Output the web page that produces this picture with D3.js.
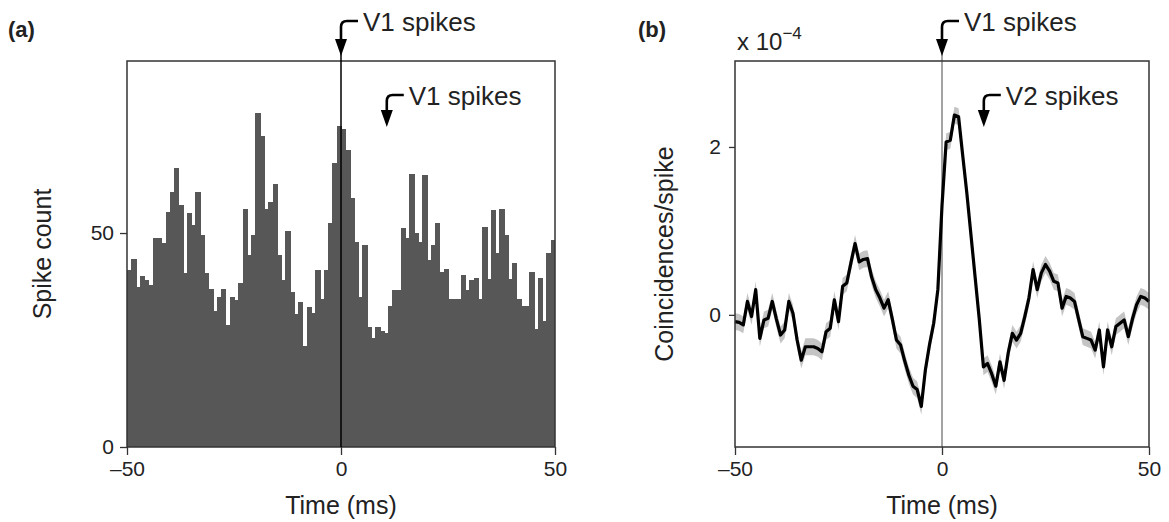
<!DOCTYPE html>
<html>
<head>
<meta charset="utf-8">
<script src="https://cdn.jsdelivr.net/npm/d3@7"></script>
<style>
  body { margin: 0; background: #fff; }
  svg text { font-family: "Liberation Sans", Arial, sans-serif; fill: #222; }
</style>
</head>
<body>
<div id="container"></div>
<script>
// histogram bins (ms) and counts, panel (a)
const binStarts = d3.range(-50, 50);
const spikeCounts = [
  41.4, 43.9, 37.5, 40, 39, 37.8, 48.8, 48.8, 47.6, 55,
  59.7, 65.3, 56.5, 40.6, 54.6, 51.9, 59.7, 49.5, 40.6, 36.9,
  31.8, 35.1, 36.9, 28.5, 35.1, 34.3, 38.4, 55.6, 44.9, 49.5,
  78.1, 72.7, 55.5, 57.3, 61.4, 44.9, 39, 50.5, 36.3, 31.1,
  33.8, 23.6, 32.6, 31.4, 41.4, 34.5, 41.4, 52.4, 66.3, 75,
  74.2, 69.4, 58.3, 48, 35.1, 47.2, 28.1, 25.4, 28, 27.2,
  26.6, 33, 36.7, 36.7, 51.1, 48.8, 63.8, 49.9, 48, 63.6,
  43.7, 47.2, 52.3, 41, 41.5, 34.6, 34.6, 34.6, 40.3, 36.8,
  39, 39.4, 34.5, 51.5, 39.2, 55.4, 45.3, 55.5, 49.5, 39.2,
  42.9, 34.6, 32.9, 32.9, 41, 27.6, 39.4, 29.4, 45.3, 48.4
];

// cross-correlation, panel (b), x 10^-4, one value per ms
const lagTimes = d3.range(-50, 51);
const coincidences = [
  -0.08, -0.09, -0.12, 0.16, -0.02, 0.30, -0.28, -0.06, -0.04, 0.16,
  -0.05, -0.24, -0.18, 0.16, 0.02, -0.30, -0.54, -0.38, -0.38, -0.38,
  -0.40, -0.44, -0.20, -0.16, 0.18, -0.08, 0.34, 0.38, 0.62, 0.85,
  0.63, 0.66, 0.67, 0.45, 0.30, 0.20, 0.08, 0.18, -0.05, -0.30,
  -0.36, -0.55, -0.72, -0.85, -0.89, -1.09, -0.65, -0.35, -0.10, 0.30,
  1.30, 2.06, 2.08, 2.38, 2.36, 1.90, 1.45, 0.95, 0.45, -0.05,
  -0.62, -0.58, -0.70, -0.85, -0.56, -0.78, -0.45, -0.22, -0.30, -0.22,
  -0.02, 0.20, 0.54, 0.30, 0.50, 0.60, 0.52, 0.40, 0.38, 0.08,
  0.22, 0.20, 0.16, -0.05, -0.26, -0.28, -0.30, -0.42, -0.18, -0.62,
  -0.18, -0.38, -0.14, -0.10, -0.06, -0.26, -0.05, 0.12, 0.22, 0.20,
  0.16
];
const bandHalf = 0.1;

const xTicks = [-50, 0, 50];
const countTicks = [0, 50];
const coincTicks = [0, 2];

const w = 1169, h = 522;
const svg = d3.select("#container").append("svg")
  .attr("width", w).attr("height", h);
svg.append("rect").attr("width", w).attr("height", h).attr("fill", "#fff");

// ---------- panel (a) ----------
const xA = d3.scaleLinear().domain([-50, 50]).range([127, 555]);
const yA = d3.scaleLinear().domain([0, 90.2]).range([447, 61]);
const gA = svg.append("g");

// bars overlap by a pixel so no seams show between neighbours
gA.selectAll(".bar")
  .data(binStarts)
  .enter().append("rect")
  .classed("bar", true)
  .attr("x", d => xA(d))
  .attr("width", (d, i) => i === binStarts.length - 1 ? xA(1) - xA(0) : xA(1) - xA(0) + 1)
  .attr("y", (d, i) => yA(spikeCounts[i]))
  .attr("height", (d, i) => yA(0) - yA(spikeCounts[i]))
  .attr("fill", "#575757")
  .attr("shape-rendering", "crispEdges");

gA.append("rect")
  .attr("x", 127).attr("y", 61).attr("width", 428).attr("height", 386)
  .attr("fill", "none").attr("stroke", "#333").attr("stroke-width", 1.5);

// zero line
gA.append("line")
  .attr("x1", xA(0)).attr("x2", xA(0)).attr("y1", 50).attr("y2", 447)
  .attr("stroke", "#000").attr("stroke-width", 1.5);

const axA_x = d3.axisBottom(xA).tickValues(xTicks).tickSize(8).tickPadding(6)
  .tickFormat(d => d < 0 ? "\u2013" + Math.abs(d) : d);
gA.append("g").attr("transform", "translate(0,447)").call(axA_x);
const axA_y = d3.axisLeft(yA).tickValues(countTicks).tickSize(7).tickPadding(6);
gA.append("g").attr("transform", "translate(127,0)").call(axA_y);

gA.append("text").attr("x", xA(0)).attr("y", 514).attr("text-anchor", "middle")
  .attr("font-size", 25).text("Time (ms)");
gA.append("text").attr("transform", "translate(51,254) rotate(-90)")
  .attr("text-anchor", "middle").attr("font-size", 25).text("Spike count");
gA.append("text").attr("x", 8).attr("y", 37).attr("font-size", 22)
  .attr("font-weight", "bold").text("(a)");

// ---------- panel (b) ----------
const xB = d3.scaleLinear().domain([-50, 50]).range([735, 1149]);
const yB = d3.scaleLinear().domain([-1.574, 3.024]).range([447, 61]);
const gB = svg.append("g");

gB.append("line")
  .attr("x1", xB(0)).attr("x2", xB(0)).attr("y1", 50).attr("y2", 447)
  .attr("stroke", "#666").attr("stroke-width", 1.2);

const band = d3.area()
  .x((d, i) => xB(lagTimes[i]))
  .y0(d => yB(d - bandHalf))
  .y1(d => yB(d + bandHalf));
gB.append("path").datum(coincidences).attr("d", band)
  .attr("fill", "#c4c4c4");

const line = d3.line()
  .x((d, i) => xB(lagTimes[i]))
  .y(d => yB(d));
gB.append("path").datum(coincidences).attr("d", line)
  .attr("fill", "none").attr("stroke", "#000").attr("stroke-width", 3.2)
  .attr("stroke-linejoin", "round");

gB.append("rect")
  .attr("x", 735).attr("y", 61).attr("width", 414).attr("height", 386)
  .attr("fill", "none").attr("stroke", "#333").attr("stroke-width", 1.5);

const axB_x = d3.axisBottom(xB).tickValues(xTicks).tickSize(8).tickPadding(6)
  .tickFormat(d => d < 0 ? "\u2013" + Math.abs(d) : d);
gB.append("g").attr("transform", "translate(0,447)").call(axB_x);
const axB_y = d3.axisLeft(yB).tickValues(coincTicks).tickSize(6).tickPadding(8)
  .tickFormat(d3.format("d"));
gB.append("g").attr("transform", "translate(735,0)").call(axB_y);

gB.append("text").attr("x", xB(0)).attr("y", 514).attr("text-anchor", "middle")
  .attr("font-size", 25).text("Time (ms)");
gB.append("text").attr("transform", "translate(673,254) rotate(-90)")
  .attr("text-anchor", "middle").attr("font-size", 25).text("Coincidences/spike");
gB.append("text").attr("x", 638).attr("y", 37).attr("font-size", 22)
  .attr("font-weight", "bold").text("(b)");
const mult = gB.append("text").attr("x", 737).attr("y", 50).attr("font-size", 24);
mult.append("tspan").text("x 10");
mult.append("tspan").attr("dy", -11).attr("font-size", 17).text("\u22124");

// shared axis styling
svg.selectAll(".tick text").attr("font-size", 21)
  .style("font-family", "'Liberation Sans', Arial, sans-serif").attr("fill", "#222");
svg.selectAll(".domain").remove();
svg.selectAll(".tick line").attr("stroke", "#333").attr("stroke-width", 1.3);

// ---------- arrow annotations ----------
function annotate(g, x, tipY, hookY, label) {
  const headLen = 17, headW = 6;
  g.append("path")
    .attr("d", `M${x + 17},${hookY} H${x + 6} Q${x},${hookY} ${x},${hookY + 6} V${tipY - headLen + 2}`)
    .attr("fill", "none").attr("stroke", "#000").attr("stroke-width", 2.6);
  g.append("path")
    .attr("d", `M${x - headW},${tipY - headLen} L${x + headW},${tipY - headLen} L${x},${tipY} Z`)
    .attr("fill", "#000");
  g.append("text").attr("x", x + 22).attr("y", hookY + 10)
    .attr("font-size", 26).text(label);
}
annotate(gA, xA(0), 56, 21, "V1 spikes");
annotate(gA, xA(10.7), 127, 95, "V1 spikes");
annotate(gB, xB(0), 56, 21, "V1 spikes");
annotate(gB, xB(10.1), 127, 95, "V2 spikes");
</script>
</body>
</html>
